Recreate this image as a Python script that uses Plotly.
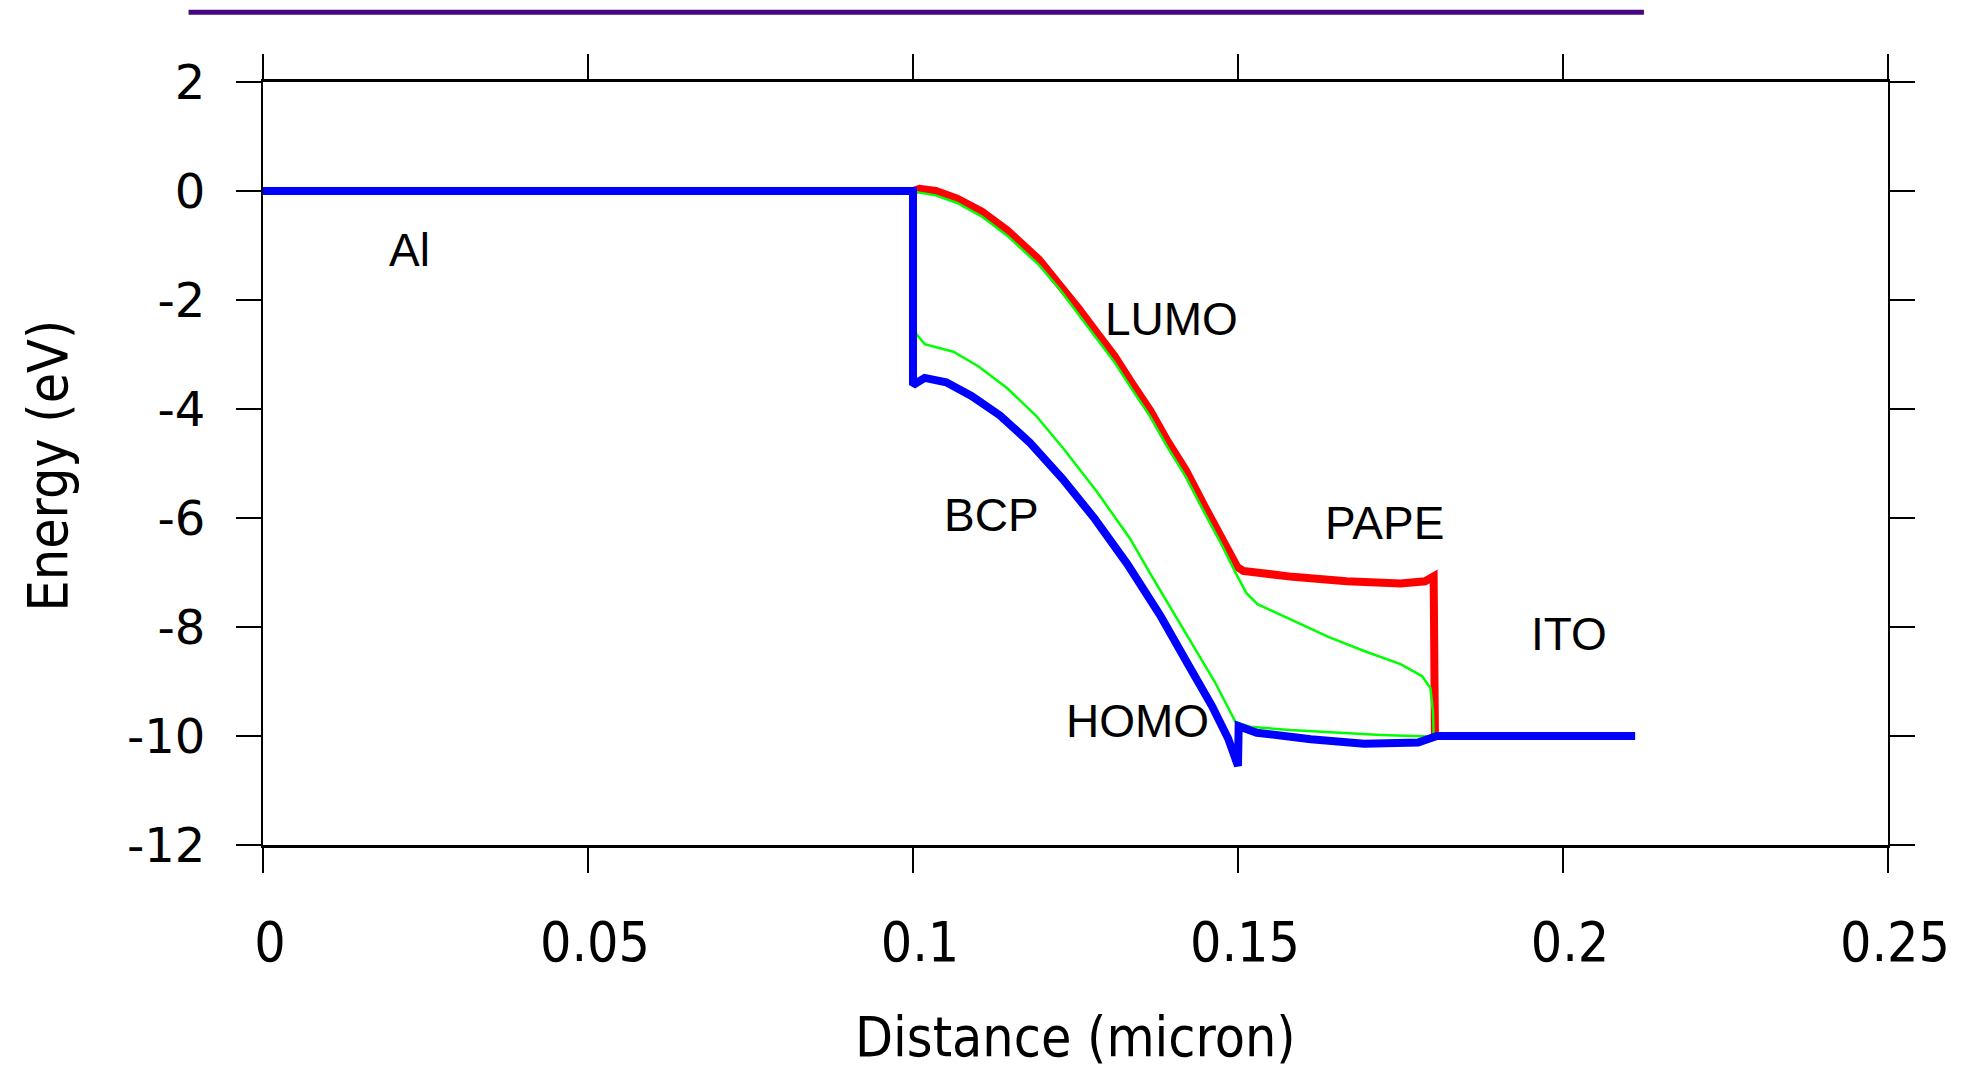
import plotly.graph_objects as go

# ---------------- data ----------------
homo_x = [0.0, 0.1, 0.1, 0.1018, 0.1051, 0.1090, 0.1134, 0.1180, 0.1230, 0.1280,
          0.1330, 0.1380, 0.1420, 0.1460, 0.1485, 0.1500, 0.1501, 0.1529, 0.1612,
          0.1694, 0.1777, 0.1801, 0.1806, 0.2111]
homo_y = [0.0, 0.0, -3.56, -3.43, -3.51, -3.76, -4.12, -4.62, -5.28, -6.02,
          -6.85, -7.78, -8.62, -9.45, -10.05, -10.55, -9.82, -9.94, -10.06,
          -10.14, -10.12, -10.04, -10.0, -10.0]

lumo_x = [0.1, 0.1010, 0.1035, 0.1068, 0.1106, 0.1145, 0.1194, 0.1227, 0.1255,
          0.1282, 0.1310, 0.1337, 0.1365, 0.1392, 0.1420, 0.1447, 0.1474, 0.1499,
          0.1508, 0.1584, 0.1667, 0.1750, 0.1788, 0.1801, 0.1803]
lumo_y = [0.0, 0.04, 0.0, -0.14, -0.38, -0.72, -1.26, -1.72, -2.16,
          -2.59, -3.03, -3.53, -4.03, -4.60, -5.13, -5.75, -6.35, -6.90,
          -6.97, -7.08, -7.16, -7.20, -7.16, -7.07, -10.0]

efn_x = [0.1, 0.1010, 0.1035, 0.1068, 0.1106, 0.1145, 0.1194, 0.1227, 0.1255,
         0.1282, 0.1310, 0.1337, 0.1365, 0.1392, 0.1420, 0.1447, 0.1474, 0.1497,
         0.1505, 0.1513, 0.1530, 0.1584, 0.1639, 0.1694, 0.1750, 0.1783, 0.1796,
         0.1800, 0.1801]
efn_y = [0.0, -0.03, -0.08, -0.22, -0.47, -0.82, -1.36, -1.82, -2.27,
         -2.70, -3.14, -3.64, -4.14, -4.71, -5.25, -5.87, -6.47, -7.02,
         -7.20, -7.38, -7.58, -7.88, -8.18, -8.44, -8.68, -8.90, -9.12,
         -9.55, -10.0]

efp_x = [0.1, 0.1008, 0.1018, 0.1062, 0.1101, 0.1145, 0.1189, 0.1231, 0.1283,
         0.1334, 0.1365, 0.1420, 0.1464, 0.1496, 0.1518, 0.1580, 0.1650, 0.1720,
         0.1795, 0.1800]
efp_y = [-2.55, -2.66, -2.81, -2.95, -3.22, -3.62, -4.12, -4.72, -5.52,
         -6.38, -7.02, -8.12, -9.00, -9.74, -9.83, -9.89, -9.94, -9.98,
         -10.01, -10.0]

region_labels = ["Al", "LUMO", "BCP", "PAPE", "ITO", "HOMO"]
region_x = [0.0226, 0.1398, 0.1121, 0.1726, 0.2009, 0.1346]
region_y = [-1.08, -2.35, -5.95, -6.09, -8.12, -9.73]

x_ticks = [0, 0.05, 0.1, 0.15, 0.2, 0.25]
x_tick_labels = ["0", "0.05", "0.1", "0.15", "0.2", "0.25"]
y_ticks = [2, 0, -2, -4, -6, -8, -10, -12]
y_tick_labels = ["2", "0", "-2", "-4", "-6", "-8", "-10", "-12"]

# ---------------- figure ----------------
fig = go.Figure()
fig.add_trace(go.Scatter(x=lumo_x, y=lumo_y, mode="lines",
                         line=dict(color="#ff0000", width=8), name="LUMO"))
fig.add_trace(go.Scatter(x=efn_x, y=efn_y, mode="lines",
                         line=dict(color="#00ff00", width=2.5), name="Efn"))
fig.add_trace(go.Scatter(x=efp_x, y=efp_y, mode="lines",
                         line=dict(color="#00ff00", width=2.5), name="Efp"))
fig.add_trace(go.Scatter(x=homo_x, y=homo_y, mode="lines",
                         line=dict(color="#0000ff", width=8), name="HOMO"))

for t, xx, yy in zip(region_labels, region_x, region_y):
    fig.add_annotation(x=xx, y=yy, text=t, showarrow=False,
                       xanchor="center", yanchor="middle",
                       font=dict(family="Liberation Sans, Arial, sans-serif",
                                 size=46, color="black"))

title_font = dict(family="DejaVu Sans Condensed, DejaVu Sans, sans-serif",
                  size=55, color="black")
fig.add_annotation(xref="paper", yref="paper", x=0.5, y=-0.2516,
                   text="Distance (micron)", showarrow=False,
                   xanchor="center", yanchor="middle", font=title_font)
fig.add_annotation(xref="paper", yref="paper", x=-0.1323, y=0.4974,
                   text="Energy (eV)", showarrow=False, textangle=-90,
                   xanchor="center", yanchor="middle", font=title_font)

# purple bar at the top
fig.add_shape(type="line", xref="paper", yref="paper",
              x0=-0.0458, x1=0.8498, y0=1.0915, y1=1.0915,
              line=dict(color="#44077f", width=5))

fig.update_layout(
    width=1971, height=1068,
    margin=dict(l=263, r=83, t=82, b=223),
    paper_bgcolor="white", plot_bgcolor="white",
    showlegend=False,
)
fig.update_xaxes(
    range=[0, 0.25], tickvals=x_ticks, ticktext=x_tick_labels,
    showgrid=False, zeroline=False,
    showline=True, linecolor="black", linewidth=3, mirror="allticks",
    ticks="outside", ticklen=25, tickwidth=1.5, tickcolor="black",
    ticklabelstandoff=22, ticklabelshift=7,
    tickfont=dict(family="DejaVu Sans Condensed, DejaVu Sans, sans-serif",
                  size=55, color="black"),
)
fig.update_yaxes(
    range=[-12, 2], tickvals=y_ticks, ticktext=y_tick_labels,
    showgrid=False, zeroline=False,
    showline=True, linecolor="black", linewidth=2, mirror="allticks",
    ticks="outside", ticklen=25, tickwidth=1.5, tickcolor="black",
    ticklabelstandoff=21,
    tickfont=dict(family="DejaVu Sans, sans-serif", size=48, color="black"),
)

fig.write_html("out.html")
